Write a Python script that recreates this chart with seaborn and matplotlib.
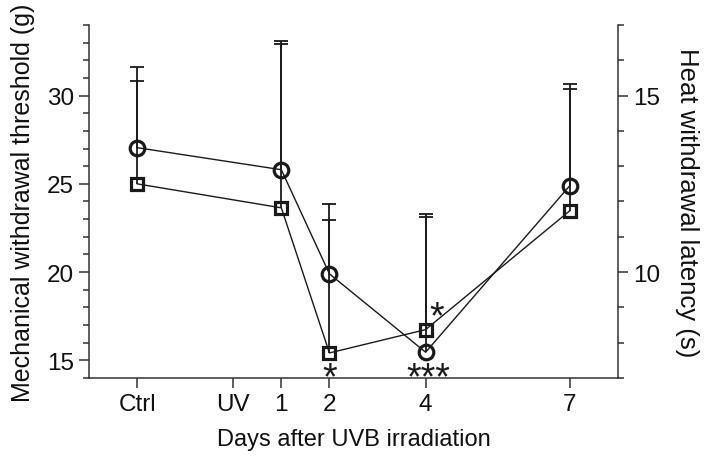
import numpy as np
import pandas as pd
import matplotlib
matplotlib.use("Agg")
import matplotlib.pyplot as plt
from matplotlib.ticker import MultipleLocator, FixedLocator
import seaborn as sns

# ---- data ----
tick_pos = [-2, 0, 1, 2, 4, 7]
tick_labels = ["Ctrl", "UV", "1", "2", "4", "7"]
days = [-2, 1, 2, 4, 7]
mech_mean = [27.05, 25.8, 19.9, 15.46, 24.9]      # circles, left axis (g)
mech_upper = [31.6, 33.1, 23.86, 23.3, 30.66]     # top of error bar
heat_mean = [12.5, 11.82, 7.71, 8.37, 11.74]      # squares, right axis (s)
heat_upper = [15.4, 16.45, 11.48, 11.55, 15.2]    # top of error bar

df = pd.DataFrame({"day": days, "mech": mech_mean, "heat": heat_mean})

sns.set_style("ticks")
plt.rcParams["font.family"] = ["Liberation Sans", "DejaVu Sans"]

fig = plt.figure(figsize=(7.09, 4.60), dpi=100)
ax = fig.add_axes([0.1255, 0.1761, 0.7461, 0.7674])
ax2 = ax.twinx()

ink = "#1a1a1a"
mk_common = dict(color=ink, lw=1.0, markerfacecolor="none",
                 markeredgecolor=ink, markeredgewidth=2.3)

sns.lineplot(data=df, x="day", y="mech", ax=ax, marker="o", markersize=10.5,
             **mk_common)
sns.lineplot(data=df, x="day", y="heat", ax=ax2, marker="s", markersize=8,
             **mk_common)

def upper_err(a, x, y, top):
    y = np.asarray(y); top = np.asarray(top)
    _, caps, _ = a.errorbar(x, y, yerr=[np.zeros_like(y), top - y], fmt="none",
                            ecolor=ink, elinewidth=1.3, capsize=4.7,
                            capthick=1.3)
    for c in caps:
        if np.allclose(c.get_ydata(), y):
            c.set_visible(False)

upper_err(ax, days, mech_mean, mech_upper)
upper_err(ax2, days, heat_mean, heat_upper)

# axes limits & ticks
ax.set_xlim(-3, 8)
ax.set_ylim(14, 34)
ax2.set_ylim(7, 17)
ax.xaxis.set_major_locator(FixedLocator(tick_pos))
ax.set_xticklabels(tick_labels)
ax.yaxis.set_major_locator(FixedLocator([15, 20, 25, 30]))
ax.yaxis.set_minor_locator(MultipleLocator(1))
ax2.yaxis.set_major_locator(FixedLocator([10, 15]))
ax2.yaxis.set_minor_locator(MultipleLocator(1))

for a in (ax, ax2):
    a.spines["top"].set_visible(False)
    for s in a.spines.values():
        s.set_linewidth(1.1)
        s.set_color("#333333")
    a.tick_params(which="major", length=7, width=1.1, color="#333333",
                  labelsize=17.5, pad=4, labelcolor="#111111")
    a.tick_params(which="minor", length=4, width=1.1, color="#333333")
ax.spines["right"].set_visible(False)
ax2.spines["left"].set_visible(False)
ax2.spines["bottom"].set_visible(False)

ax.set_xlabel("Days after UVB irradiation", fontsize=17, labelpad=9,
              color="#111111")
ax.set_ylabel("Mechanical withdrawal threshold (g)", fontsize=18,
              labelpad=8, color="#111111")
ax2.set_ylabel("Heat withdrawal latency (s)", fontsize=18.5, rotation=270,
               labelpad=28, color="#111111")

# significance stars
star_kw = dict(fontsize=27, ha="center", va="baseline", color=ink,
               clip_on=False)
ax.text(2, 13.42, "*", **star_kw)
ax.text(4.06, 13.42, "***", **star_kw)
ax.text(4.22, 16.85, "*", **star_kw)

fig.savefig("out.png", dpi=100)
